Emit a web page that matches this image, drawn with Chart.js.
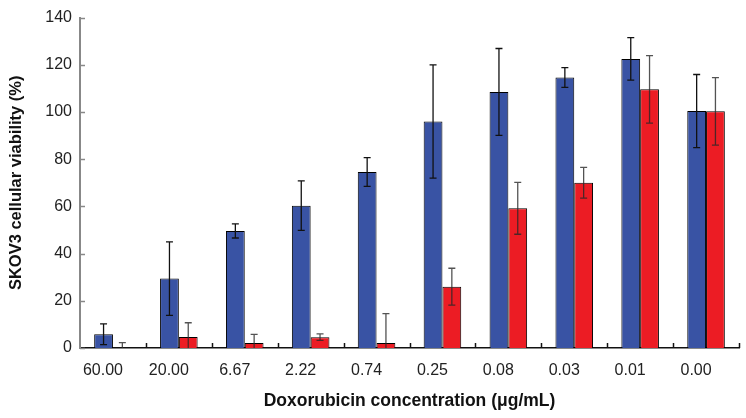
<!DOCTYPE html>
<html>
<head>
<meta charset="utf-8">
<script src="https://cdn.jsdelivr.net/npm/chart.js@4"></script>
<style>
  html, body { margin: 0; padding: 0; background: #fff; }
  #wrap { width: 746px; height: 418px; }
</style>
</head>
<body>
<div id="wrap"><canvas id="viabilityChart"></canvas></div>
<script>
// concentration categories (µg/mL)
const concentrations = ["60.00", "20.00", "6.67", "2.22", "0.74", "0.25", "0.08", "0.03", "0.01", "0.00"];

// blue series: mean and error
const blueValues = [5.8, 29.4, 49.6, 60.3, 74.6, 96.0, 108.5, 114.6, 122.5, 100.4];
const blueErrors = [4.4, 15.6, 3.0, 10.5, 6.1, 24.0, 18.4, 4.2, 9.0, 15.5];

// red series: mean and error
const redValues = [0, 4.7, 2.1, 4.6, 2.1, 26.0, 59.2, 70.0, 109.6, 100.3];
const redErrors = [2.3, 6.0, 3.7, 1.4, 12.5, 7.8, 11.0, 6.5, 14.3, 14.3];

const yTicks = [0, 20, 40, 60, 80, 100, 120, 140];

// draws error bars (with caps) on top of each bar
const errorBars = {
  id: "errorBars",
  afterDatasetsDraw(chart) {
    const ctx = chart.ctx;
    const y = chart.scales.y;
    const area = chart.chartArea;
    chart.data.datasets.forEach((ds, di) => {
      const meta = chart.getDatasetMeta(di);
      ctx.save();
      ctx.beginPath();
      ctx.rect(area.left, area.top - 5, area.right - area.left, area.bottom - area.top + 5);
      ctx.clip();
      ctx.strokeStyle = ds.errorColor;
      ctx.lineWidth = 1.3;
      meta.data.forEach((bar, i) => {
        const v = ds.data[i];
        const e = ds.errors[i];
        const top = y.getPixelForValue(v + e);
        const bottom = y.getPixelForValue(Math.max(v - e, 0));
        ctx.beginPath();
        ctx.moveTo(bar.x, top);
        ctx.lineTo(bar.x, bottom);
        ctx.moveTo(bar.x - 3.5, top);
        ctx.lineTo(bar.x + 3.5, top);
        if (v - e > 0) {
          ctx.moveTo(bar.x - 3.5, bottom);
          ctx.lineTo(bar.x + 3.5, bottom);
        }
        ctx.stroke();
      });
      ctx.restore();
    });
  }
};

// inward tick marks on both axes
const inwardTicks = {
  id: "inwardTicks",
  afterDraw(chart) {
    const ctx = chart.ctx;
    const x = chart.scales.x;
    const y = chart.scales.y;
    ctx.save();
    ctx.lineWidth = 1.5;
    ctx.strokeStyle = "#888";
    yTicks.forEach(t => {
      const py = Math.round(y.getPixelForValue(t)) + 0.5;
      ctx.beginPath();
      ctx.moveTo(x.left, py);
      ctx.lineTo(x.left + 5, py);
      ctx.stroke();
    });
    ctx.strokeStyle = "#111";
    for (let i = 0; i < concentrations.length; i++) {
      const px = Math.round(x.getPixelForValue(i + 0.5)) + 0.5;
      ctx.beginPath();
      ctx.moveTo(px, y.bottom);
      ctx.lineTo(px, y.bottom - 5);
      ctx.stroke();
    }
    ctx.restore();
  }
};

const ctx = document.getElementById("viabilityChart").getContext("2d");
const viabilityChart = new Chart(ctx, {
  type: "bar",
  data: {
    labels: concentrations,
    datasets: [
      {
        label: "Blue",
        data: blueValues,
        errors: blueErrors,
        errorColor: "#111",
        backgroundColor: "#3953a4",
        borderColor: "#000",
        borderWidth: 1,
        barPercentage: 1.0,
        categoryPercentage: 0.57,
      },
      {
        label: "Red",
        data: redValues,
        errors: redErrors,
        errorColor: "rgba(40,40,40,0.8)",
        backgroundColor: "#ec1c24",
        borderColor: "#000",
        borderWidth: 1,
        barPercentage: 1.0,
        categoryPercentage: 0.57,
      },
    ],
  },
  options: {
    responsive: true,
    maintainAspectRatio: false,
    animation: false,
    layout: { padding: { top: 13, right: 7, left: 0, bottom: 0 } },
    plugins: {
      legend: { display: false },
      tooltip: { enabled: false },
    },
    scales: {
      x: {
        grid: { display: false, drawTicks: false },
        border: { display: true, color: "#111", width: 1.5 },
        ticks: {
          color: "#222",
          padding: 13,
          labelOffset: -10,
          maxRotation: 0,
          autoSkip: false,
          font: { family: "'Liberation Sans', Arial, sans-serif", size: 16 },
        },
        title: {
          display: true,
          text: "Doxorubicin concentration (μg/mL)",
          color: "#111",
          padding: { top: 0, bottom: 6 },
          font: { family: "'Liberation Sans', Arial, sans-serif", size: 17.5, weight: "bold" },
        },
        afterFit(scale) { scale.height = 70; },
      },
      y: {
        min: 0,
        max: 140,
        afterBuildTicks(scale) { scale.ticks = yTicks.map(v => ({ value: v })); },
        grid: { display: false, drawTicks: false },
        border: { display: true, color: "#888", width: 2 },
        ticks: {
          color: "#222",
          padding: 8,
          font: { family: "'Liberation Sans', Arial, sans-serif", size: 16 },
        },
        title: {
          display: true,
          text: "SKOV3 cellular viability (%)",
          color: "#111",
          padding: { top: 7, bottom: 0 },
          font: { family: "'Liberation Sans', Arial, sans-serif", size: 16.5, weight: "bold" },
        },
        afterFit(scale) { scale.width = 80; },
      },
    },
  },
  plugins: [errorBars, inwardTicks],
});
</script>
</body>
</html>
